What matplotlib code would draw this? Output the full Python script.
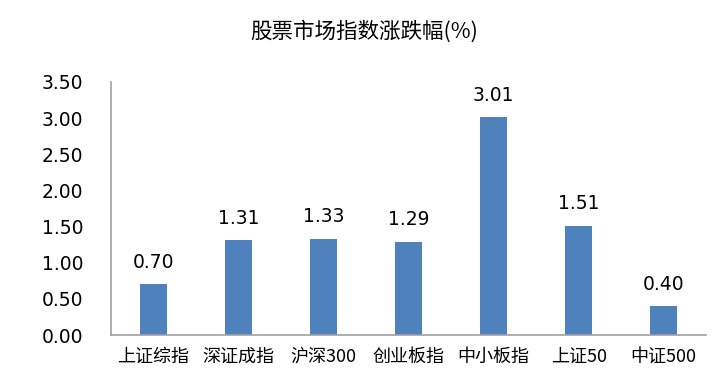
import matplotlib
matplotlib.use("Agg")
import matplotlib.pyplot as plt

categories = ["上证综指", "深证成指", "沪深300", "创业板指", "中小板指", "上证50", "中证500"]
values = [0.70, 1.31, 1.33, 1.29, 3.01, 1.51, 0.40]
yticks = [0.0, 0.5, 1.0, 1.5, 2.0, 2.5, 3.0, 3.5]

plt.rcParams['font.family'] = ['Noto Sans CJK SC', 'DejaVu Sans']

fig = plt.figure(figsize=(7.28, 3.92), dpi=100)
ax = fig.add_axes([0.1525, 0.1454, 0.8175, 0.6456])

x = list(range(len(categories)))
ax.bar(x, values, width=0.31, color="#4F81BD")
ax.set_xlim(-0.5, len(categories) - 0.5)
ax.set_ylim(0, 3.5)
ax.set_yticks(yticks)
ax.set_yticklabels([f"{v:.2f}" for v in yticks], fontsize=13.5, family=['DejaVu Sans'])
ax.set_xticks(x)
ax.set_xticklabels(categories, fontsize=13)
ax.tick_params(axis='both', length=0)
ax.tick_params(axis='y', pad=20)
ax.tick_params(axis='x', pad=9)

for s in ['top', 'right']:
    ax.spines[s].set_visible(False)
for s in ['left', 'bottom']:
    ax.spines[s].set_color("#A0A0A0")
    ax.spines[s].set_linewidth(1.2)

for xi, v in zip(x, values):
    ax.annotate(f"{v:.2f}", (xi, v), xytext=(0, 9), textcoords="offset points",
                ha="center", va="bottom", fontsize=13.5, family=['DejaVu Sans'])

fig.text(0.5, 0.92, "股票市场指数涨跌幅(%)", ha="center", va="center", fontsize=15.5)

fig.savefig("out.png", dpi=100)
